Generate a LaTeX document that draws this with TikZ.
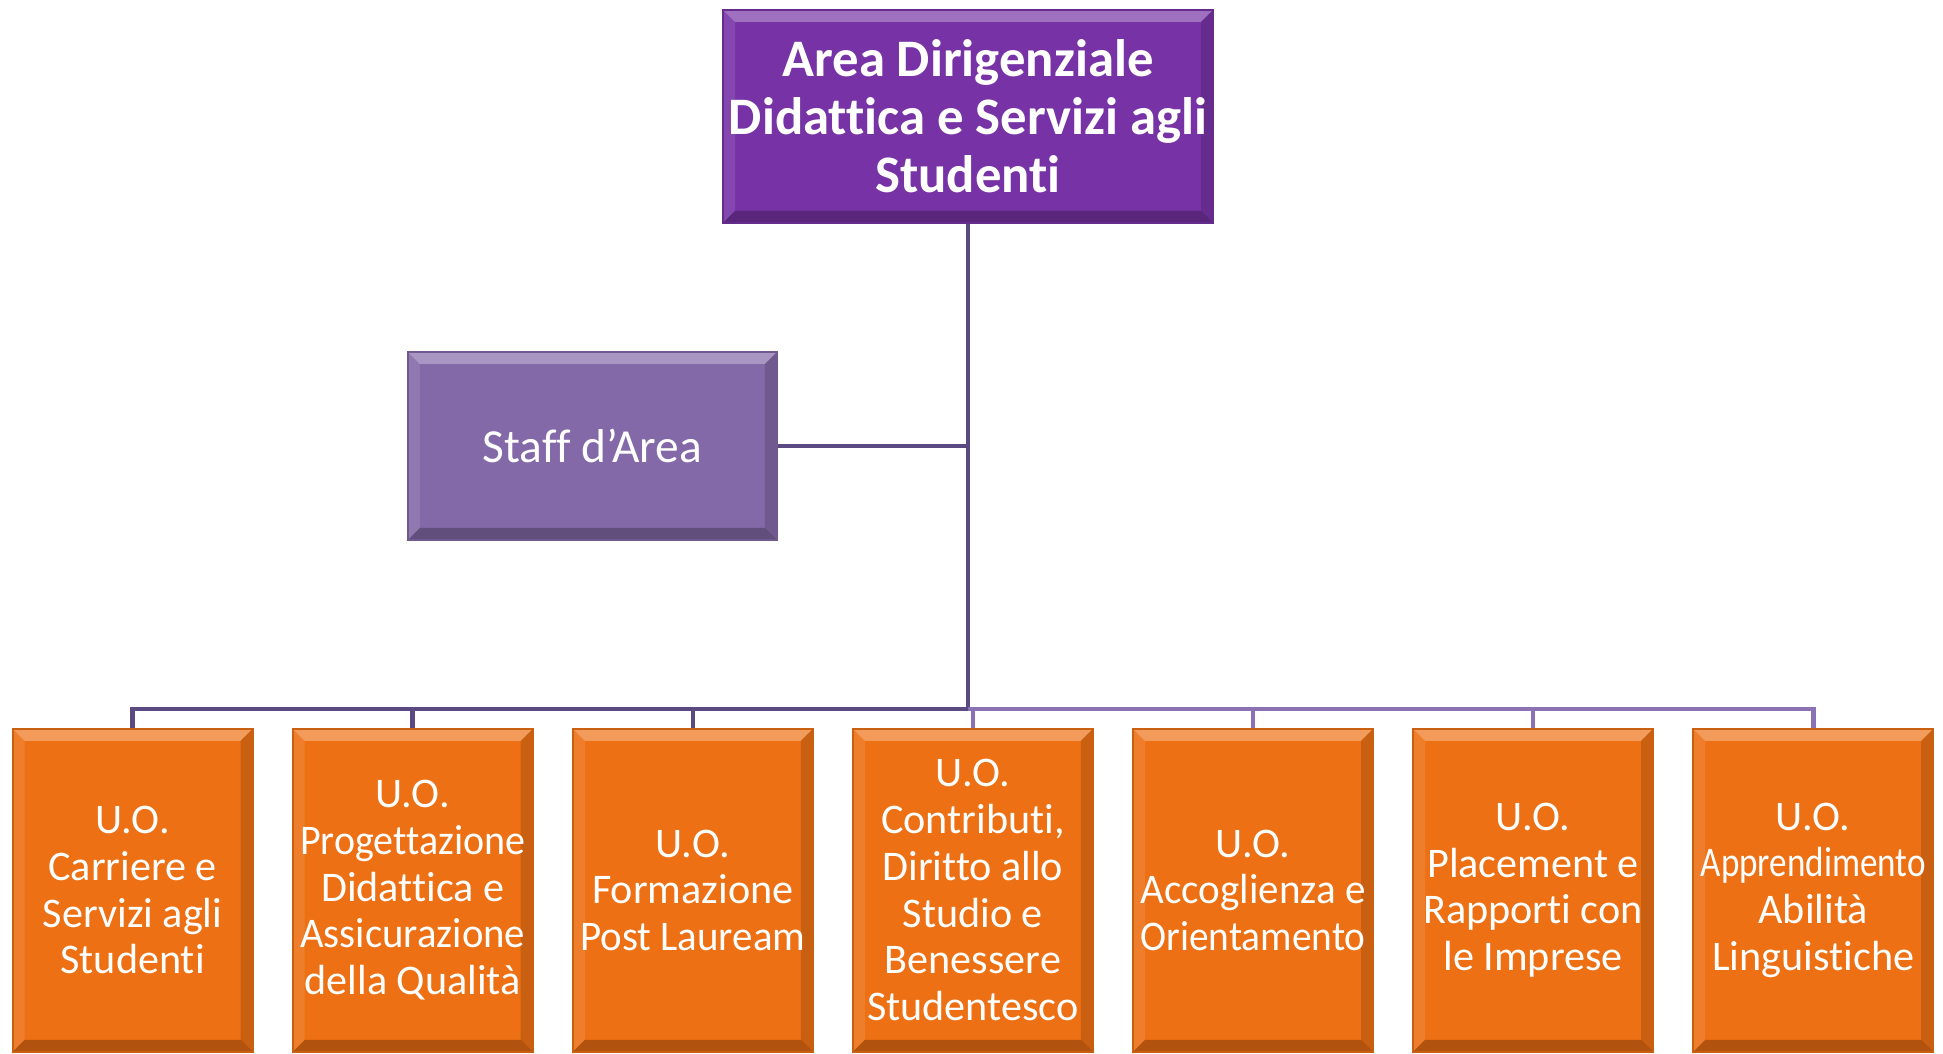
\documentclass[tikz,border=0pt]{standalone}
\usepackage{fontspec}
\setmainfont[Ligatures=NoCommon]{Carlito}
\definecolor{topP}{HTML}{7733A6}
\definecolor{staffP}{HTML}{8469A8}
\definecolor{uoO}{HTML}{ED7014}
\definecolor{lineD}{HTML}{5B4A82}
\definecolor{lineL}{HTML}{8A72B5}
\newsavebox\myfitbox
\newcommand\fl[1]{\sbox\myfitbox{#1}\ifdim\wd\myfitbox>2.25cm\resizebox{2.25cm}{\height}{\usebox\myfitbox}\else\usebox\myfitbox\fi}
\tikzset{
  bevel/.style={path picture={
    \coordinate (pNW) at (path picture bounding box.north west);
    \coordinate (pNE) at (path picture bounding box.north east);
    \coordinate (pSW) at (path picture bounding box.south west);
    \coordinate (pSE) at (path picture bounding box.south east);
    \fill[white,opacity=.30] (pNW) -- (pNE) -- ([shift={(-#1,-#1)}]pNE) -- ([shift={(#1,-#1)}]pNW) -- cycle;
    \fill[white,opacity=.10] (pNW) -- ([shift={(#1,-#1)}]pNW) -- ([shift={(#1,#1)}]pSW) -- (pSW) -- cycle;
    \fill[black,opacity=.15] (pNE) -- (pSE) -- ([shift={(-#1,#1)}]pSE) -- ([shift={(-#1,-#1)}]pNE) -- cycle;
    \fill[black,opacity=.25] (pSW) -- ([shift={(#1,#1)}]pSW) -- ([shift={(-#1,#1)}]pSE) -- (pSE) -- cycle;
  }},
  topbox/.style={rectangle, fill=topP, draw=topP!85!black, line width=0.6pt,
    minimum width=4.90cm, minimum height=2.13cm, inner sep=0pt, text=white,
    align=center, font=\fontsize{15}{16.5}\selectfont\bfseries, bevel=0.12cm},
  staffbox/.style={rectangle, fill=staffP, draw=staffP!85!black, line width=0.6pt,
    minimum width=3.69cm, minimum height=1.88cm, inner sep=0pt, text=white,
    align=center, font=\fontsize{13.5}{15}\selectfont, bevel=0.12cm},
  uobox/.style={rectangle, fill=uoO, draw=uoO!85!black, line width=0.6pt,
    minimum width=2.40cm, minimum height=3.23cm, inner sep=0pt, text=white,
    align=center, font=\fontsize{12}{13.3}\selectfont, bevel=0.12cm},
  connD/.style={draw=lineD, line width=1.3pt},
  connL/.style={draw=lineL, line width=1.3pt}
}
\begin{document}
\begin{tikzpicture}
\useasboundingbox (0,0) rectangle (19.43,10.54);
\node[topbox] (top) at (9.68,9.375) {Area Dirigenziale\\Didattica e Servizi agli\\Studenti};
\node[staffbox] (staff) at (5.923,6.08) {Staff d’Area};
\node[uobox] (u1) at (1.326,1.637) {\fl{U.O.}\\\fl{Carriere e}\\\fl{Servizi agli}\\\fl{Studenti}};
\node[uobox] (u2) at (4.127,1.637) {\fl{U.O.}\\\fl{Progettazione}\\\fl{Didattica e}\\\fl{Assicurazione}\\\fl{della Qualità}};
\node[uobox] (u3) at (6.928,1.637) {\fl{U.O.}\\\fl{Formazione}\\\fl{Post Lauream}};
\node[uobox] (u4) at (9.729,1.637) {\fl{U.O.}\\\fl{Contributi,}\\\fl{Diritto allo}\\\fl{Studio e}\\\fl{Benessere}\\\fl{Studentesco}};
\node[uobox] (u5) at (12.530,1.637) {\fl{U.O.}\\\fl{Accoglienza e}\\\fl{Orientamento}};
\node[uobox] (u6) at (15.331,1.637) {\fl{U.O.}\\\fl{Placement e}\\\fl{Rapporti con}\\\fl{le Imprese}};
\node[uobox] (u7) at (18.132,1.637) {\fl{U.O.}\\\fl{Apprendimento}\\\fl{Abilità}\\\fl{Linguistiche}};
\coordinate (hub) at (top.south |- 0,3.452);
\draw[connD] (top.south) -- (hub);
\draw[connD] (staff.east) -- (staff.east -| top.south);
\draw[connD] (hub) -| (u1.north);
\draw[connD] (hub) -| (u2.north);
\draw[connD] (hub) -| (u3.north);
\draw[connL] (hub) -| (u4.north);
\draw[connL] (hub) -| (u5.north);
\draw[connL] (hub) -| (u6.north);
\draw[connL] (hub) -| (u7.north);
\end{tikzpicture}
\end{document}
